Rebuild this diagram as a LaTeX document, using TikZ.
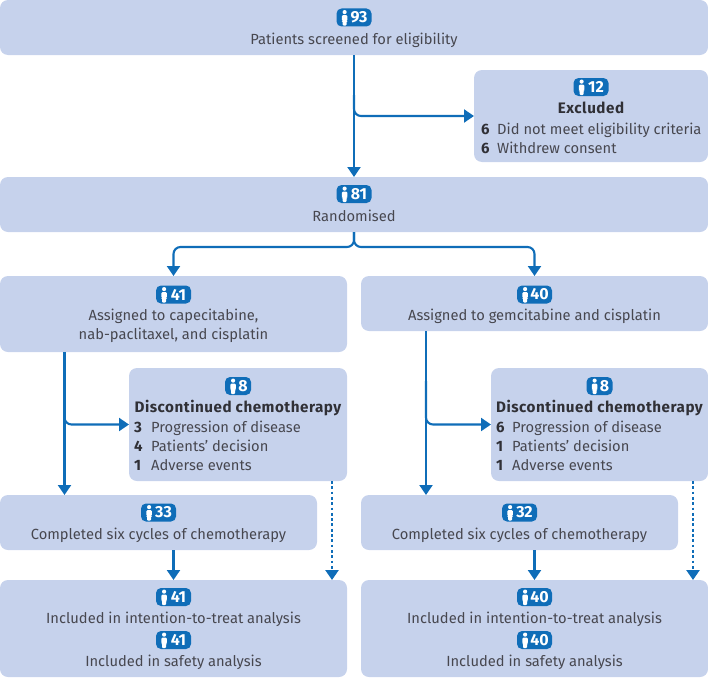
\documentclass[tikz,border=0pt]{standalone}
\usepackage{fontspec}
\setmainfont{Fira Sans}
\newfontfamily\headfont[LetterSpace=3.4]{Fira Sans}
\usetikzlibrary{arrows.meta,calc}
\definecolor{boxfill}{HTML}{C6D2EC}
\definecolor{flowblue}{HTML}{0F6DB8}
\definecolor{bodytext}{HTML}{47474F}
\definecolor{headtext}{HTML}{303036}
\tikzset{
  x=1pt,y=-1pt,
  flowbox/.style={fill=boxfill,rounded corners=8pt,inner sep=0pt,outer sep=0pt},
  badgebox/.style={fill=flowblue,rounded corners=5pt,inner sep=0pt,minimum height=18pt,text=white,font=\fontsize{16}{16}\selectfont\bfseries,align=center},
  bodylabel/.style={inner sep=0pt,anchor=mid,text=bodytext,yshift=-2.4pt,font=\fontsize{14.7}{16}\selectfont},
  headlabel/.style={inner sep=0pt,anchor=mid,text=headtext,yshift=-2.4pt,font=\fontsize{15.2}{16}\headfont\bfseries},
  rownum/.style={inner sep=0pt,anchor=mid west,text=headtext,yshift=-2.4pt,font=\fontsize{15}{16}\selectfont\bfseries},
  rowtext/.style={inner sep=0pt,anchor=mid west,text=bodytext,yshift=-2.4pt,font=\fontsize{14.7}{16}\selectfont},
  flow/.style={draw=flowblue,line width=2.1pt,rounded corners=7pt},
  arrowed/.style={-{Triangle[length=10pt,width=13pt]}},
  dotflow/.style={draw=flowblue,line width=2.6pt,dash pattern=on 2.8pt off 2.5pt,-{Triangle[length=10pt,width=13pt,sep=0pt]}},
}
% box: name, x1, y1, x2, y2
\newcommand{\flowboxat}[5]{\node[flowbox,minimum width={#4-#2},minimum height={#5-#3}] (#1) at ({(#2+#4)/2},{(#3+#5)/2}) {};}
% badge: name, cx, cy, width, number
\newcommand{\badgeat}[5]{%
  \node[badgebox,minimum width=#4] (#1) at (#2,#3) {\hspace*{10pt}#5};
  \fill[white] ($(#1.west)+(8.3,-5.4)$) circle (2.1pt);
  \fill[white,rounded corners=1pt] ($(#1.west)+(5.6,-2.4)$) -- ++(5.4,0) -- ++(0,6) -- ++(-.8,0) -- ++(0,4.6) -- ++(-3.8,0) -- ++(0,-4.6) -- ++(-.8,0) -- cycle;
}
\begin{document}
\begin{tikzpicture}
\useasboundingbox (0,0) rectangle (708,677);
% boxes
\flowboxat{top}{0}{0}{708}{55}
\flowboxat{excl}{474}{70}{708}{162}
\flowboxat{rand}{0}{177}{708}{232}
\flowboxat{armA}{0}{276}{347}{352}
\flowboxat{armB}{361}{276}{708}{331}
\flowboxat{discA}{129}{368}{347}{481}
\flowboxat{discB}{491}{368}{708}{481}
\flowboxat{compA}{0}{495}{317}{550}
\flowboxat{compB}{361}{495}{678}{550}
\flowboxat{finA}{0}{580}{347}{677}
\flowboxat{finB}{361}{580}{708}{677}
% top
\badgeat{bTop}{354}{17.5}{35pt}{93}
\node[bodylabel] (tTop) at (354,39) {Patients screened for eligibility};
% excluded
\badgeat{bExcl}{591}{87}{35pt}{12}
\node[headlabel] (hExcl) at (591,108) {Excluded};
\node[rownum] (nE1) at (481,129) {6};
\node[rowtext] (tE1) at (497,129) {Did not meet eligibility criteria};
\node[rownum] (nE2) at (481,148) {6};
\node[rowtext] (tE2) at (497,148) {Withdrew consent};
% randomised
\badgeat{bRand}{354}{194}{35pt}{81}
\node[bodylabel] (tRand) at (354,216) {Randomised};
% arm A
\badgeat{bA}{173.5}{294.5}{35pt}{41}
\node[bodylabel] (tA1) at (173.5,315) {Assigned to capecitabine,};
\node[bodylabel] (tA2) at (173.5,334) {nab-paclitaxel, and cisplatin};
% arm B
\badgeat{bB}{534.5}{294.5}{35pt}{40}
\node[bodylabel] (tB1) at (534.5,315) {Assigned to gemcitabine and cisplatin};
% disc A
\badgeat{bDA}{238}{386}{26pt}{8}
\node[headlabel] (hDA) at (238,407) {Discontinued chemotherapy};
\node[rownum] (nDA1) at (134,427) {3};
\node[rowtext] (tDA1) at (151,427) {Progression of disease};
\node[rownum] (nDA2) at (134,446) {4};
\node[rowtext] (tDA2) at (151,446) {Patients’ decision};
\node[rownum] (nDA3) at (134,465) {1};
\node[rowtext] (tDA3) at (151,465) {Adverse events};
% disc B
\badgeat{bDB}{599.5}{386}{26pt}{8}
\node[headlabel] (hDB) at (599.5,407) {Discontinued chemotherapy};
\node[rownum] (nDB1) at (496,427) {6};
\node[rowtext] (tDB1) at (512,427) {Progression of disease};
\node[rownum] (nDB2) at (496,446) {1};
\node[rowtext] (tDB2) at (512,446) {Patients’ decision};
\node[rownum] (nDB3) at (496,465) {1};
\node[rowtext] (tDB3) at (512,465) {Adverse events};
% completed
\badgeat{bCA}{158.5}{512.5}{35pt}{33}
\node[bodylabel] (tCA) at (158.5,534) {Completed six cycles of chemotherapy};
\badgeat{bCB}{519.5}{512.5}{35pt}{32}
\node[bodylabel] (tCB) at (519.5,534) {Completed six cycles of chemotherapy};
% final
\badgeat{bFA1}{173.5}{597}{35pt}{41}
\node[bodylabel] (tFA1) at (173.5,618) {Included in intention-to-treat analysis};
\badgeat{bFA2}{173.5}{640}{35pt}{41}
\node[bodylabel] (tFA2) at (173.5,661) {Included in safety analysis};
\badgeat{bFB1}{534.5}{597}{35pt}{40}
\node[bodylabel] (tFB1) at (534.5,618) {Included in intention-to-treat analysis};
\badgeat{bFB2}{534.5}{640}{35pt}{40}
\node[bodylabel] (tFB2) at (534.5,661) {Included in safety analysis};
% connectors
\coordinate (downA) at (64.5,352);
\coordinate (downB) at (426,331);
\coordinate (dotA) at (332,481);
\coordinate (dotB) at (693,481);
\coordinate (midY) at (354,247);
\draw[flow,arrowed] (top.south) -- (rand.north);
\draw[flow,arrowed] ($(top.south)+(0,40)$) -- (top.south |- excl.west) -- (excl.west);
\draw[flow,arrowed] (rand.south) -- (midY) -- (midY -| armA.north) -- (armA.north);
\draw[flow,arrowed] (rand.south) -- (midY) -- (midY -| armB.north) -- (armB.north);
\draw[flow,arrowed] (downA) -- (downA |- compA.north);
\draw[flow,arrowed] (downB) -- (downB |- compB.north);
\draw[flow,arrowed] ($(downA)+(0,50)$) -- (downA |- discA.west) -- (discA.west);
\draw[flow,arrowed] ($(downB)+(0,50)$) -- (downB |- discB.west) -- (discB.west);
\draw[dotflow] (dotA) -- (dotA |- finA.north);
\draw[dotflow] (dotB) -- (dotB |- finB.north);
\draw[flow,arrowed] (compA.south -| armA.north) -- (armA.north |- finA.north);
\draw[flow,arrowed] (compB.south -| armB.north) -- (armB.north |- finB.north);
\end{tikzpicture}
\end{document}
